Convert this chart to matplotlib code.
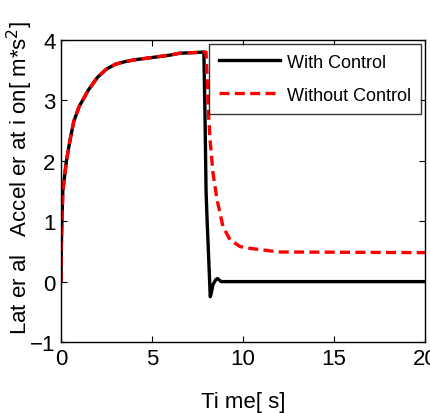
import matplotlib
matplotlib.use("Agg")
import matplotlib.pyplot as plt

# values
t_ctrl = [0, 0.02, 0.05, 0.1, 0.2, 0.3, 0.5, 0.7, 1.0, 1.5, 2.0, 2.5, 3.0, 3.5, 4.0, 5.0,
          6.0, 6.5, 7.85, 7.92, 7.97, 8.03, 8.1, 8.2, 8.25, 8.35, 8.5, 8.6, 8.8, 20]
a_ctrl = [0, 0.6, 1.0, 1.5, 1.75, 2.0, 2.35, 2.65, 2.9, 3.17, 3.38, 3.52, 3.6, 3.64, 3.67, 3.71,
          3.75, 3.78, 3.8, 2.6, 1.5, 1.0, 0.5, -0.25, -0.2, -0.05, 0.03, 0.05, 0.0, 0.0]

t_free = [0, 0.02, 0.05, 0.1, 0.2, 0.3, 0.5, 0.7, 1.0, 1.5, 2.0, 2.5, 3.0, 3.5, 4.0, 5.0,
          6.0, 6.5, 7.97, 8.1, 8.19, 8.35, 8.57, 8.9, 9.29, 9.84, 10.4, 11.2, 12.0, 20]
a_free = [0, 0.6, 1.0, 1.5, 1.75, 2.0, 2.35, 2.65, 2.9, 3.17, 3.38, 3.52, 3.6, 3.64, 3.67, 3.71,
          3.75, 3.78, 3.8, 2.8, 2.35, 1.8, 1.36, 0.91, 0.69, 0.58, 0.55, 0.52, 0.49, 0.48]

xticks = [0, 5, 10, 15, 20]
yticks = [-1, 0, 1, 2, 3, 4]

plt.rcParams["font.family"] = ["Liberation Sans", "DejaVu Sans"]

fig = plt.figure(figsize=(4.3, 4.14), dpi=100)
ax = fig.add_axes([61 / 430, 1 - 343 / 414, 364 / 430, 302 / 414])

ax.plot(t_ctrl, a_ctrl, color="black", lw=2.4, label="With Control")
ax.plot(t_free, a_free, color="red", lw=2.4, ls=(0, (3, 1.6)), label="Without Control")

ax.set_xlim(0, 20)
ax.set_ylim(-1, 4)
ax.set_xticks(xticks)
ax.set_yticks(yticks)
ax.tick_params(direction="in", top=True, right=True, labelsize=16, length=4, pad=4)
for s in ax.spines.values():
    s.set_linewidth(1.0)

ax.set_xlabel("Ti me[ s]", fontsize=16, labelpad=16)
# y label placed by hand so it fills the left margin like the original
fig.text(20 / 430, 1 - 178 / 414, "Lat er al   Accel er at i on[ m*s$^2$]",
         rotation=90, ha="center", va="center", fontsize=16)

leg = ax.legend(loc="upper right", fontsize=13, handlelength=3.4, handletextpad=0.4,
                frameon=True, fancybox=False, edgecolor="black", borderaxespad=0.2,
                labelspacing=0.9, borderpad=0.55)
leg.get_frame().set_linewidth(1.0)

fig.savefig("out.png", dpi=100)
